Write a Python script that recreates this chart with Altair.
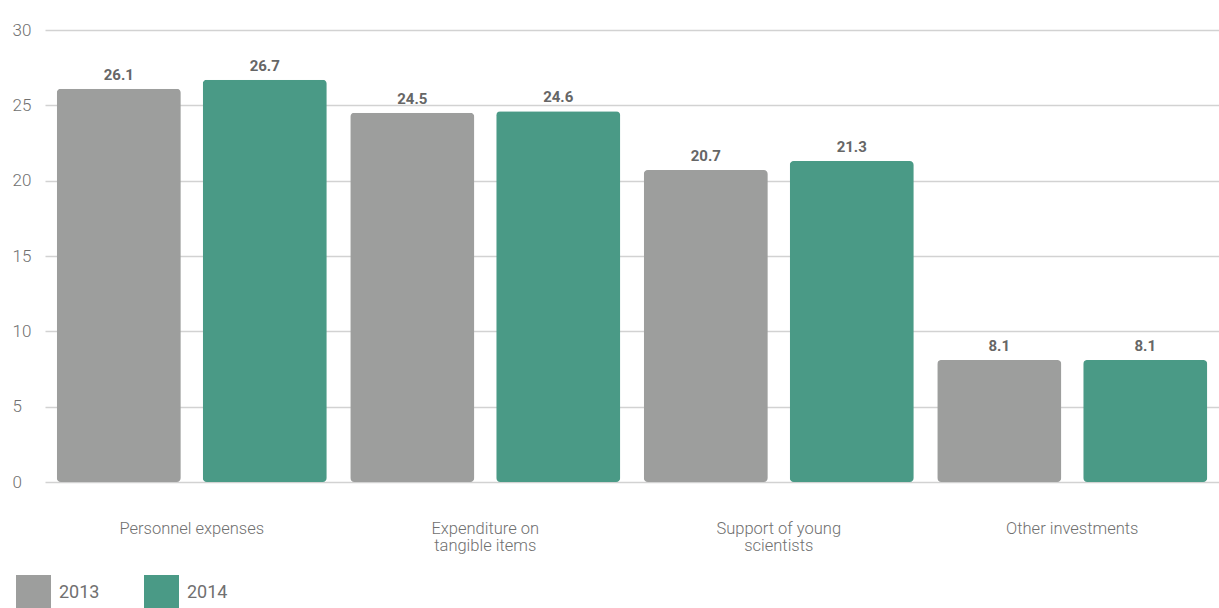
import altair as alt
import pandas as pd

categories = ["Personnel expenses", "Expenditure on tangible items",
              "Support of young scientists", "Other investments"]
years = ["2013", "2014"]
values_2013 = [26.1, 24.5, 20.7, 8.1]
values_2014 = [26.7, 24.6, 21.3, 8.1]
y_ticks = [0, 5, 10, 15, 20, 25, 30]
colors = ["#9d9e9d", "#4a9a86"]

rows = []
for c, a, b in zip(categories, values_2013, values_2014):
    rows.append({"category": c, "year": years[0], "value": a})
    rows.append({"category": c, "year": years[1], "value": b})
df = pd.DataFrame(rows)

label_expr = ("datum.label == 'Expenditure on tangible items' ? ['Expenditure on', 'tangible items'] : "
              "datum.label == 'Support of young scientists' ? ['Support of young', 'scientists'] : datum.label")

x_enc = alt.X("category:N", sort=categories, title=None,
              scale=alt.Scale(paddingInner=0.08, paddingOuter=0.04),
              axis=alt.Axis(labelAngle=0, labelExpr=label_expr, labelPadding=38,
                            labelFontSize=16.5, labelColor="#707070", labelFont="Roboto",
                            labelFontWeight=300, domain=False, ticks=False, labelLineHeight=17))
xo_enc = alt.XOffset("year:N", sort=years, scale=alt.Scale(paddingInner=0.15))
y_enc = alt.Y("value:Q", title=None, scale=alt.Scale(domain=[0, 30], nice=False),
              axis=alt.Axis(values=y_ticks, labelAlign="left", labelPadding=33, tickSize=0,
                            ticks=False, domain=False, labelFontSize=17, labelColor="#707070",
                            labelFont="Roboto", labelFontWeight=300,
                            gridColor="#d2d2d2", gridWidth=1.5))

bars = alt.Chart(df).mark_bar(cornerRadius=4).encode(
    x=x_enc, xOffset=xo_enc, y=y_enc,
    color=alt.Color("year:N", sort=years, scale=alt.Scale(domain=years, range=colors),
                    legend=alt.Legend(title=None, orient="none", direction="horizontal",
                                      legendX=-29, legendY=545, symbolType="square",
                                      symbolSize=1225, symbolStrokeWidth=0, symbolOpacity=1,
                                      labelFontSize=18, labelColor="#707070",
                                      labelFont="Roboto",
                                      labelOffset=8, columnPadding=44))
)

texts = alt.Chart(df).mark_text(dy=-14, fontSize=15, fontWeight="bold", color="#666666",
                                font="Roboto").encode(
    x=alt.X("category:N", sort=categories), xOffset=xo_enc, y=alt.Y("value:Q"),
    text=alt.Text("value:Q", format=".1f")
)

chart = alt.layer(bars, texts).properties(
    width=1174, height=452,
    autosize=alt.AutoSizeParams(type="none"),
    padding={"left": 45, "top": 30, "right": 0, "bottom": 126},
    background="white"
).configure_view(stroke=None)

chart.save("out.html", embed_options={"renderer": "svg", "actions": False})
